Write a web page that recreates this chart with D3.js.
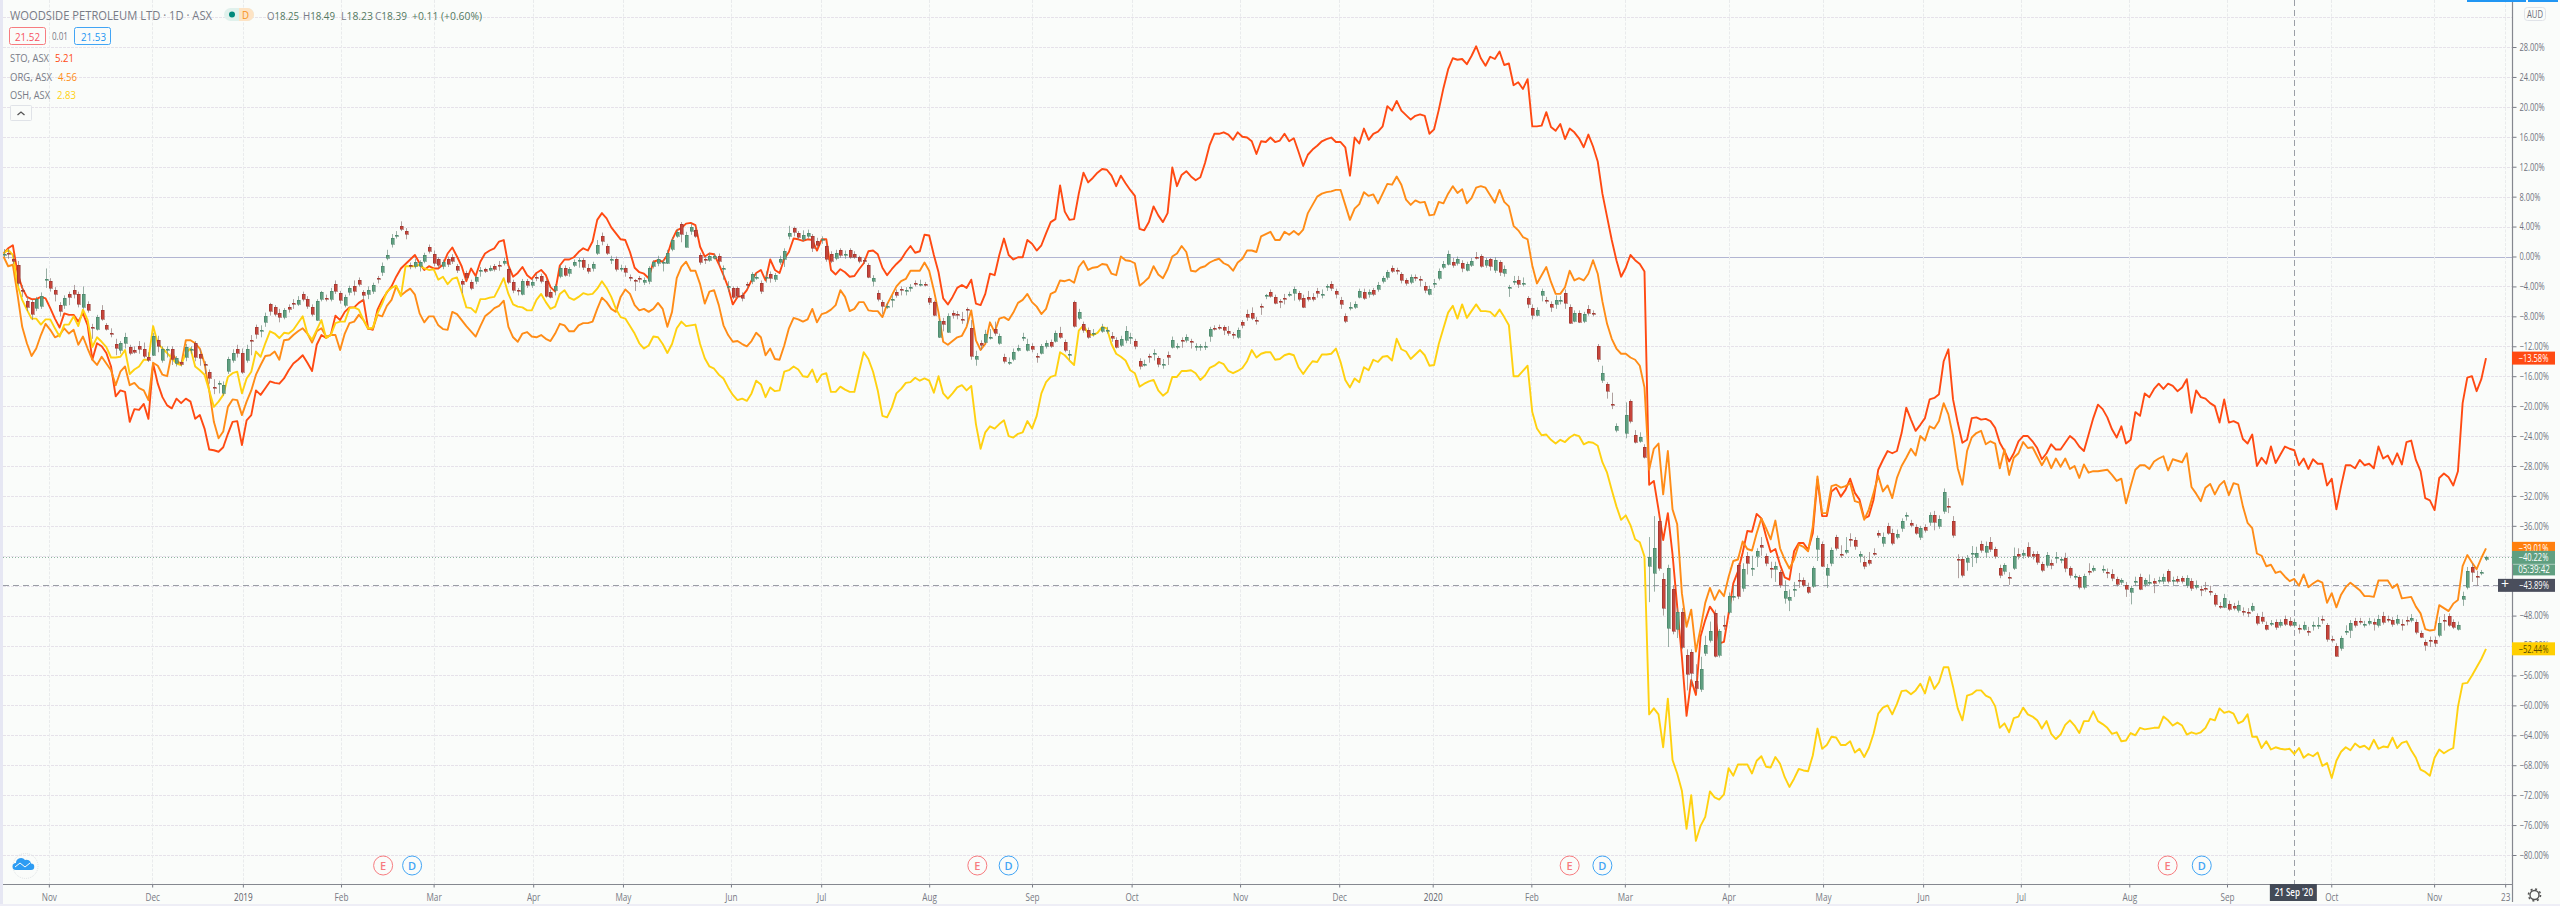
<!DOCTYPE html>
<html><head><meta charset="utf-8">
<script src="https://cdn.jsdelivr.net/npm/d3@7"></script>
<style>
html,body{margin:0;padding:0;background:#fafcfa;overflow:hidden}
text{font-family:"Open Sans",sans-serif}
</style></head><body>
<svg id="c" width="2560" height="906"></svg>
<script>
// Percent change from the chart's first bar; every array is indexed by trading day.
const stoA=[0.4,1.1,1.5,-2.2,-4.2,-5.4,-5.7,-5.7,-5.4,-5.6,-6.9,-8.3,-9.5,-7.6,-7.8,-7.8,-8.7,-7.6,-9.2,-13.8,-11.6,-12,-12.9,-14.7,-18.7,-17.9,-18.1,-22.1,-20.4,-20.5,-19.7,-21.7,-14.3,-17,-18.8,-19.9,-20.3,-19,-19.6,-19,-19.4,-21.7,-21.2,-23,-25.8,-25.9,-26.1,-25.5,-23.7,-22.1,-22,-25.2,-21.9,-21.2,-17.9,-18.5,-17.6,-16.7,-16.9,-17,-16.3,-15.2,-14.3,-13.8,-13.2,-14.2,-15.3,-11.8,-10.5,-10.9,-10.5,-7.9,-8.5,-7.4,-6.8,-6.8,-6.2,-5.8,-9.6,-9.8,-7.1,-5.8,-4.8,-4,-2.7,-1.6,-1,-.4,.2,-.9,-1.8,-1.3,-1.6,-1.6,-1.1,.4,1.2,0,-1.3,-3.3,-1.6,-2.6,-.7,.4,.8,1.1,2];
const stoB=[2.2,-1.2,-2.7,-2.2,-1.4,-2.5,-3,-2.2,-1.8,-2.5,-4.1,-4.7,-1.2,-.4,-.4,-.1,.6,1.1,.8,2,4.9,5.8,5.1,3.9,3.1,2.3,2.2,.6,-1.5,-2.1,-2.3,-2.9,-.7,-.5,-.7,.2,2.2,3.5,3.8,4.4,4.5,4.2,1.3,0,.4,.3,-1,-2.5,-4.1,-6.4,-5.4,-5.3,-4.5,-3.2,-2.2,-1.8,-3.2,-.4,-1.8,-2.2,-.3,.6,2.4,2.3,2.1,2.3,2.2,.8,2.3,2.3,-1.8,-2.4,-1.7,-2.1,-2.7,-2.6,-1.7,-.9,.7,.8,.3,-1.5,-2.5,-1.7,-1,-.4,.6,1.4,.5,.7,2.9,2.8,.2,-2.1,-5.6,-6.4,-5.4,-4.2,-3.8,-4.2,-3.1,-6.3,-6.5,-5,-2.3,-2.5,.2,2.4,.2,-.4,-.1,-.1,2.2,1.7,.8,1.5,3.1,4.6,5,9.5,6,4.9,5,8.4,11.2,9.9];
const stoC=[10.5,11.2,11.7,11.6,10.8,9.4,10.8,9.8,8.9,8.1,3.7,3.5,4.6,6.7,5.5,4.6,5.8,11.9,9.4,10.9,11.4,10.7,10.2,10.6,12.5,14.9,16.4,16.4,16.6,16.3,15.6,16.6,16,15.9,15.4,13.7,15.4,15.3,15.9,15.3,15.5,16.4,15.4,15.8,14,12.1,13.6,14.3,14.8,15.4,15.7,15.9,15.3,15.3,14.6,10.8,15.9,15.1,17.1,15.6,16.4,16.7,17.4,20.1,19.5,20.8,19.5,18.9,18.3,18.8,19,18.8,16.4,17,19.6,22.5,25,26.5,26.3,26.4,25.7,26.8,28.1,26.5,25.5,26.7,26.4,27.4,25.6,25.8,22.9,23.3,22.4,23.7,17.4,17.4,17.5,19.3,17.3,16.8,17.7,15.7,17.1,16.6,15.8,14.6,16.3,14.7,12.7,8.4,5.3,2.2,-.5,-2.7,-1.5,.2,-.5,-1,-2];
const stoD=[-30.5,-30,-33.8,-37.9,-34.3,-39.8,-46.8,-53.5,-61.4,-56.6,-58.6,-50.8,-48.6,-46.8,-47.7,-51.7,-51.5,-47.7,-43.7,-42.1,-39.6,-36.7,-36.8,-34.4,-35,-37.4,-39.5,-39.1,-41.2,-42.9,-43.2,-39.4,-38.3,-38.3,-39.2,-37,-29.8,-34.7,-34.7,-31.4,-30.9,-32.1,-31.2,-29.7,-31.6,-32.5,-35,-34.7,-32.5,-28.5,-27.2,-26,-26.3,-26,-23.6,-20.2,-21.8,-23.3,-22.5,-21.6,-19.1,-18.9,-18.4,-14,-12.4,-19.1,-22.2,-24.9,-24.5,-21.6,-21.5,-21.8,-21.7,-22,-22.9,-24.9,-26,-27.4,-26.3,-24.7,-24,-24,-24.7,-25.6,-27.1,-26.3,-25.1,-25.8,-25.8,-24.9,-24,-24.5,-25.4,-26,-23.8,-21.6,-19.8];
const stoE=[-20.4,-21.5,-23.1,-24.2,-22.7,-25,-24.5,-20.8,-21.3,-18.3,-18.8,-17.7,-17,-17.7,-17,-17.3,-18,-17.5,-16.4,-20.9,-17.9,-18.8,-19,-19.6,-20,-22.2,-19.1,-22.2,-22,-22.3,-24.4,-25,-23.8,-28,-26.9,-27.7,-25.4,-27.6,-26.5,-25.4,-25.7,-25.9,-27.9,-27,-28.4,-27.1,-27.7,-27.7,-30.6,-29.7,-33.8,-30.7,-27.9,-27.9,-28.3,-27.2,-27.9,-27.7,-28.3,-25.4,-27,-26.6,-27.8,-26.3,-27.8,-24.8,-24.6,-27.2,-28.7,-32.3,-32.6,-33.9,-29.6,-29,-29.5,-30.6,-28.7,-19.6,-16.2,-16,-18,-16.4,-13.58];

const orgA=[0,-1.3,-1.1,-5.1,-9.4,-11.6,-13.3,-12.3,-10.5,-9,-9.8,-10.8,-10.5,-9.6,-10.3,-9.8,-11.8,-10.7,-12.3,-13.8,-14.5,-13.4,-14.3,-15.2,-17.2,-15.4,-14.7,-17.2,-16.9,-17.6,-17.9,-19.2,-14.2,-14.6,-15.8,-16,-12.9,-13.8,-14.5,-11.2,-11.2,-11.6,-12.3,-14.3,-17.9,-22.1,-24.3,-23.4,-20.1,-19.1,-19.2,-21.2,-19.4,-17.9,-15.8,-14.5,-13.3,-13.2,-12.7,-13.8,-11.2,-11.1,-10.5,-10,-9.6,-10.3,-11.5,-10,-9.6,-10.7,-10.5,-10.5,-12.5,-10.3,-8.9,-8.7,-7.8,-8.5,-9.7,-9.7,-7.8,-8,-6.6,-5.8,-4,-5.2,-4.7,-4.3,-5.1,-7.6,-8.8,-8,-8,-9.2,-9.7,-9.8,-7.4,-7.7,-8.5,-9.3,-10,-10.7,-9.3,-8,-7.5,-6.9,-6.6];
const orgB=[-5.9,-9.4,-10.8,-11.4,-10.3,-10.1,-10.7,-10.8,-10.5,-11,-11.3,-10.3,-9,-9.2,-10,-10,-9.2,-8.9,-8.9,-8.7,-7,-5.5,-6.1,-7,-7.4,-5.4,-4.4,-5,-6.5,-7.2,-7,-7.4,-7,-6.2,-7,-9.4,-7.4,-2.9,-1.4,-.7,-1.9,-1.9,-3.7,-6.3,-4.7,-4.5,-6.5,-9.2,-10.5,-11.4,-11.3,-11.7,-12,-11.3,-10.2,-10.8,-13.2,-12.3,-13.7,-13.8,-11.9,-9.6,-8.2,-8.4,-8.7,-8.4,-7,-8.8,-7.7,-7.5,-7.1,-6.5,-4.5,-5.4,-7.3,-7,-6.1,-6.1,-7.2,-7.3,-7.3,-8.1,-6.4,-5.2,-4,-3.3,-3,-1.9,-1.9,-1.9,-.8,-1.9,-4.5,-7.5,-11.4,-11.8,-11.3,-10.8,-10.6,-9.4,-7.2,-11.2,-12.5,-11.7,-8.8,-10.1,-8.3,-8.1,-8.5,-7.5,-6.2,-5.8,-5,-6.1,-6.7,-7.7,-7,-5,-4.7,-3.2,-3.3,-3.1,-3.5,-1.4,-.6,-1.8,-1.5,-1.4];
const orgC=[-1,-1.1,-2.3,-2.5,0,-.5,-.6,-.9,-3.9,-3.4,-2.8,-1.3,-2.4,-2.9,-1.7,0,.4,1.4,.6,-1.9,-2,-1.5,-1.3,-.8,-.5,-.3,-.9,-1.2,-1.9,-.8,-.3,.8,.8,.6,2.7,3,3.3,2.2,2.2,3.3,2.9,3.4,2.9,3.6,5.8,6.9,8,8.4,8.6,8.7,8.9,8.9,6.9,4.9,6.4,7,8.6,8.1,8.3,7.1,8.4,9.7,9.6,10.7,9.6,7.6,6.9,7.5,7.2,7.3,5.5,5.6,7.3,7.1,8.4,9.4,8.5,9,7.1,7.8,9.2,9.4,9.2,8.2,7.2,8.9,7.3,6.7,4.1,3.5,2.6,2.3,-1.2,-3.6,-2.5,-1.4,-3.4,-5,-5,-4.1,-1.9,-3.2,-2.9,-3.2,-2.3,-.5,-2.3,-6,-9,-11,-12.3,-13,-13,-13.5,-13.8,-14.6,-17.5];
const orgD=[-28.5,-25.7,-25,-31.8,-26,-33.8,-35.8,-45,-49.5,-47.2,-52.8,-49.7,-46.3,-44.3,-45.9,-44.6,-45.4,-42.8,-40.7,-40.5,-38.1,-39.1,-39.3,-37,-35,-36.3,-37.8,-35.3,-39,-40.5,-41.7,-40.5,-38.5,-38.8,-39.4,-36.1,-29.4,-34.3,-34.3,-30.7,-30.5,-30.9,-30.7,-30.3,-32.7,-32.9,-35.2,-33.8,-31.6,-29.3,-31.4,-30.6,-32.3,-29.6,-28,-26.9,-25.7,-26.6,-24,-24.6,-22.7,-23,-22,-19.6,-21.1,-24,-28.3,-30.5,-26,-24.2,-23.6,-23.3,-25.1,-24.7,-25,-28.3,-25.8,-29.2,-26.9,-26.3,-24.8,-25.6,-25.5,-26.7,-27.9,-26.8,-28.3,-27,-28.1,-27,-28.4,-28,-29.6,-27.8,-28.9,-28.7,-28.7];
const orgE=[-28.6,-28.5,-29.2,-30,-29.7,-33,-30.7,-28.5,-27.9,-27.9,-28.4,-27.4,-27,-26.7,-28.6,-27.1,-27.3,-27.5,-26.3,-30.8,-31.7,-32.7,-30.9,-30.4,-31.8,-30.6,-30,-31.9,-30.3,-30.5,-33.4,-35.6,-36.3,-39.7,-40,-41.4,-41.2,-42.3,-42.1,-42.8,-43.4,-43.1,-44,-42.5,-44.2,-43.7,-43.3,-43.6,-46.3,-45,-46.9,-45.2,-44.2,-43.6,-44.1,-44.6,-45.4,-45.4,-45.5,-43.3,-43.3,-43.3,-44.3,-43.8,-45.7,-45.6,-45.5,-46.8,-47.7,-49.8,-50,-49.9,-46.6,-47,-47.4,-46.4,-45.9,-41.4,-39.9,-40.9,-41.8,-40.3,-39.01];

const oshA=[.4,.9,.2,-3.8,-5.8,-7.1,-8.3,-8.3,-9.1,-8.4,-8.4,-9.6,-10.7,-9.1,-9.1,-8,-9.3,-7.1,-8.5,-12.1,-10.8,-11.4,-12.1,-13.5,-13.5,-13.4,-12.5,-15.7,-15.1,-14.7,-13.8,-13.8,-9.3,-11.6,-12.3,-12.9,-13.6,-14.3,-14.5,-12.9,-12.3,-14.7,-15.2,-15.8,-17.9,-20.1,-19.4,-18.5,-16.1,-15.6,-15.4,-18.3,-16.3,-15.4,-12.7,-13.4,-11.6,-10,-10.3,-10.9,-10.2,-10.3,-9.8,-8.9,-8,-10.3,-11.1,-9.8,-8.5,-10.9,-10.5,-8.9,-8.7,-8.7,-6.9,-6.8,-7.1,-8.5,-9.6,-9.5,-7.6,-6.3,-4.7,-4.2,-3.9,-5.3,-1.3,-1.3,-1.3,-1.1,-1.6,-1.8,-1.7,-3.1,-2.7,-3.7,-3,-2.8,-4.7,-6.8,-6.9,-7.5,-5.7,-5.7,-5.5,-5.4,-4.2];
const oshB=[-2.9,-5,-6.4,-6.7,-6.8,-7.2,-7.2,-5.8,-5,-6.1,-7,-6.7,-5,-4.5,-5.5,-5.8,-5.4,-4.9,-5.1,-5,-4.3,-3.3,-4.2,-5.4,-7,-8.1,-8.3,-9.3,-10.3,-11.6,-12.3,-11.9,-10.7,-10.8,-11.7,-12.9,-11.7,-9.6,-8.7,-9.3,-9.2,-9.1,-11.7,-13.6,-14.7,-15,-15.8,-16.3,-17.5,-18.5,-19.2,-19,-19.3,-18.3,-16.6,-17.1,-18.8,-17.5,-18,-17.9,-15.4,-15.2,-14.7,-15.1,-16,-16.1,-15.1,-16.8,-15.8,-15.6,-18.1,-18.1,-17.4,-17.8,-18.1,-18.1,-15.4,-12.8,-13.7,-15.4,-17.9,-21.3,-21.5,-20.2,-18.3,-17.7,-16.9,-16.8,-16.2,-16.6,-16.3,-16.6,-18.2,-16,-18.3,-19,-18.3,-17.5,-17.2,-17.9,-17.3,-22.4,-25.7,-23.5,-22.7,-23,-22.4,-21.9,-24,-24.2,-23.7,-23.5,-22,-23,-21.3,-18.3,-16.8,-16.1,-15.9,-12.8,-13.2,-13.9,-14.5,-9.9,-9.2,-10.3,-10.5,-10.2];
const oshC=[-9.4,-9.6,-11.7,-13,-13.4,-13.9,-15.2,-15.6,-17.4,-17,-16.7,-16.5,-17.9,-18.6,-18.1,-16.1,-16.1,-15.3,-15.3,-15.2,-15.6,-16.5,-15.9,-14.9,-14.6,-14.1,-14.4,-15.3,-15.6,-15.3,-14.9,-14,-12.5,-13.5,-13,-12.8,-12.8,-13.8,-13.7,-13.2,-13,-13.2,-14.8,-15.7,-14.8,-14,-14.1,-13.1,-13.1,-13,-12.3,-14.1,-16.5,-17.5,-16.3,-16.8,-14.8,-15.2,-13.8,-14.1,-13.4,-13.3,-13.9,-11,-12.4,-12.7,-13.7,-13.1,-12.5,-13.2,-14.6,-14.5,-11.7,-9.6,-7.5,-6.6,-8.3,-6.4,-8.2,-7.3,-6.4,-7.3,-7.3,-7.4,-8,-7.1,-8.1,-9.2,-16,-16,-15.3,-14.6,-20.8,-23,-23.9,-23.8,-24.5,-25,-24.5,-24.8,-24.2,-23.8,-24,-25.1,-24.8,-24.9,-25.3,-27.5,-28.9,-31.2,-33.4,-35.2,-34.6,-35.9,-37.8,-38.2,-40.1];
const oshD=[-61.2,-60.4,-61.2,-65.6,-59.1,-67.3,-69.1,-71.4,-76.5,-72,-78.1,-76.1,-74.9,-71.5,-72.3,-72.6,-71.9,-68.4,-69.4,-67.9,-67.9,-67.9,-69.1,-67.4,-66.8,-68.2,-68.3,-66.9,-67.8,-69.6,-70.9,-69.8,-68.5,-68.7,-68.8,-66.7,-63.1,-65.8,-65.3,-64.2,-64.3,-65.3,-65.3,-64.8,-66.3,-65.8,-66.9,-65.7,-63.8,-61.1,-60.3,-60,-61.2,-59.8,-58.1,-58,-58.5,-58,-57.1,-58.4,-56.2,-57.8,-56.9,-54.9,-54.9,-57.5,-60.4,-62,-58.7,-58.5,-58,-58,-58.7,-59,-60.1,-63,-62.4,-63.6,-61.7,-61.5,-60.3,-61.2,-61.5,-62,-63.1,-62.1,-63.8,-64.5,-63.9,-62.6,-62,-62.7,-63.7,-62.1,-62.1,-60.8,-62.1];
const oshE=[-62.5,-63,-63.8,-63.6,-64.8,-64.7,-63.7,-64,-63,-63.2,-63.1,-63,-63,-61.5,-62,-62.7,-62.3,-62.7,-63.9,-63.6,-63.8,-63.6,-63,-61.8,-62,-60.4,-61,-60.8,-61.1,-62.4,-62.1,-61.2,-64.2,-64.2,-65.7,-64.8,-65.9,-65.6,-65.8,-65.9,-65.8,-66.5,-65.7,-67,-66.5,-66.8,-66.3,-68.1,-67.7,-69.7,-67.4,-66.2,-65.6,-66,-65.1,-65.6,-65.4,-65.9,-64.6,-65.8,-65.5,-65.6,-64.3,-65.7,-65,-64.8,-66,-67,-68.6,-68.9,-69.4,-67,-65.9,-66.4,-66,-65.7,-60.2,-57.1,-57,-56,-54.9,-53.8,-52.44];

// Woodside candles: [open, close, high, low] in percent
const candlesA=[[.4,.4,1,-.1],[.5,.4,1,-.3],[-.4,-.7,.3,-1],[-1.1,-3.5,-.6,-3.9],[-4.5,-4.7,-3.8,-5.4],[-5.9,-6.7,-5.3,-7.3],[-6.1,-7.7,-5.8,-8.5],[-6.9,-5.7,-5.4,-7.3],[-6.7,-5.3,-4.8,-7],[-3,-3,-1.6,-4.2],[-3.3,-4.2,-2.9,-4.7],[-4.5,-5.1,-4.1,-6],[-6.5,-7.3,-6.1,-8],[-6.6,-5.6,-5.2,-7],[-5,-5.4,-4.7,-6.5],[-4.5,-5,-3.8,-5.6],[-5,-6.3,-4.7,-6.8],[-6.8,-5,-4,-7],[-6.4,-7.2,-6,-7.5],[-9.4,-9.6,-9,-11],[-9.7,-8.1,-7.8,-9.9],[-7.1,-8.3,-6.5,-8.6],[-9.2,-9.7,-8.9,-9.9],[-10.2,-10.3,-9.6,-10.8],[-11.7,-12.2,-11,-13.2],[-12.5,-11.5,-11.3,-13],[-11.6,-10.8,-10.2,-12.3],[-12.1,-12.9,-11.8,-13.2],[-12.5,-12.8,-12,-13],[-12,-12.4,-11.3,-13],[-12.4,-13.4,-11.5,-13.6],[-13.4,-13.8,-12.8,-14.1],[-13.1,-10.6,-10.2,-13.3],[-11.1,-11.9,-10.6,-12.8],[-13.8,-12.3,-12,-14.2],[-12.4,-12.4,-12,-13.5],[-12.4,-13.8,-12,-14.5],[-14.3,-13.6,-13.3,-14.7],[-14.1,-14.4,-13.9,-14.7],[-13.5,-12.1,-11.7,-14],[-12.3,-12.3,-12,-13],[-11.6,-13.5,-11.3,-14],[-13,-13.6,-12.4,-14.6],[-14.4,-14.6,-14,-15.7],[-15.4,-16.2,-15.1,-17],[-17.4,-17.6,-16.4,-18.4],[-17.1,-16.9,-16.6,-18.3],[-18.3,-17.2,-16.7,-18.6],[-15.3,-13.7,-13.4,-15.7],[-13.9,-12.9,-12.4,-14.2],[-12.3,-12.9,-11.8,-13.5],[-12.9,-15.4,-12.3,-15.7],[-13.9,-12.4,-11.8,-14.2],[-11.1,-11.3,-10.5,-13.2],[-9.4,-10.3,-9.1,-11],[-9.8,-9.8,-9.2,-10.8],[-8.7,-7.9,-7.5,-9.4],[-6.4,-7.4,-6.2,-7.9],[-6.8,-7.7,-6.5,-8],[-7.5,-8,-7,-8.8],[-8,-7.1,-6.9,-8.4],[-6.7,-7,-6.4,-7.5],[-6.2,-6.3,-5.7,-7],[-6.3,-5.8,-5.3,-6.6],[-5,-5.7,-4.7,-6],[-5.7,-6.6,-5.3,-7],[-6.8,-7.8,-6.4,-8],[-8.5,-6,-5.7,-8.6],[-5.7,-4.8,-4.6,-6],[-5.5,-5.7,-5.1,-6],[-5.7,-4.6,-4.2,-6],[-3.7,-4.7,-3.2,-5],[-4.9,-5.9,-4.6,-6.3],[-6.5,-5.4,-5.1,-6.8],[-4.8,-4.2,-3.9,-5.2],[-4,-4.7,-3.2,-5.2],[-3.1,-3.6,-2.8,-4],[-4.8,-5.2,-4.5,-6],[-5,-4.5,-4,-5.7],[-4.6,-3.8,-3.5,-5],[-2.9,-3.1,-2.6,-3.6],[-2.1,-1.3,-.8,-2.6],[-.2,.2,.9,-.5],[1.7,2.5,3,1.2],[2.9,2.9,3.4,2.4],[4.1,3.7,4.7,3.4],[3.4,3,3.8,2.3],[-1.1,-1.3,-.8,-1.7],[-1.3,-.7,-.3,-1.6],[-1.4,-.8,-.5,-2],[-.6,.2,.5,-.9],[1.3,.7,1.6,.4],[.3,-.9,.8,-1.3],[-.4,-1.2,-.1,-1.5],[-1.4,-.8,-.4,-1.7],[-.4,-1.1,0,-1.4],[0,-.5,.3,-1],[-1.3,-1.9,-1,-2.2],[-3.3,-3.7,-3,-4.9],[-2.2,-2.8,-1.9,-3.1],[-3.4,-4.2,-3.1,-4.5],[-3.4,-2.8,-2.5,-3.7],[-1.8,-1.8,-1.4,-2.7],[-1.7,-2,-1.5,-2.2],[-1.8,-1.5,-1.2,-2],[-1.3,-1.7,-1,-2]];
const candlesB=[[-1.2,-1.3,-.6,-1.9],[-.9,-.6,-.2,-1.2],[-1.7,-3.4,-1.3,-3.7],[-3.4,-4.5,-3.1,-4.9],[-4.5,-4.7,-4.2,-5.2],[-5,-3.3,-3,-5.2],[-3.3,-3.9,-3,-4.2],[-3.8,-3.4,-3,-4.2],[-2.7,-2.9,-2.3,-3.3],[-2.6,-3.3,-2.3,-3.6],[-3.3,-5.3,-3,-5.5],[-4.7,-5.4,-4.4,-5.6],[-4.5,-4,-3.7,-5.2],[-2.6,-1.5,-1.2,-2.9],[-1.5,-2.4,-1.2,-2.7],[-2.3,-1.7,-1.4,-2.7],[-1.1,-.7,-.4,-1.4],[-.5,-.5,-.2,-1.5],[-.5,-1.4,-.2,-1.8],[-1.5,-1.9,-1,-2.3],[-1.5,-1,-.7,-2],[.5,1.6,2.2,.2],[2.8,2.1,3.2,1.5],[1.4,.5,1.7,.2],[-.5,-.3,.1,-1],[-.3,-1.7,0,-2],[-1.7,-1.5,-1.1,-2],[-1.5,-2.1,-1.2,-2.7],[-2.7,-2.9,-2.4,-3.3],[-3.2,-3.4,-3,-4.6],[-2.9,-3.1,-2.6,-3.5],[-3.5,-3.2,-2.8,-3.8],[-3.4,-1.6,-1.3,-3.7],[-1.3,-.8,-.5,-1.6],[-.8,-.3,.1,-1.3],[-.8,-.8,-.4,-2],[-.8,.5,.9,-1],[1,2.2,2.6,.7],[2.8,3.3,3.7,2.5],[4.3,2.9,4.6,1.9],[1.3,2.9,3.3,1.2],[3.3,3.9,4.4,2.9],[3.6,2.8,3.9,2.5],[.2,-.8,.5,-1.1],[-.4,-.6,0,-1],[-.4,.1,.5,-.7],[-.2,.1,.4,-.4],[.1,-.6,.4,-1.2],[-1.7,-1.6,-1.2,-3.1],[-4.1,-4,-3.3,-4.7],[-4.2,-5.4,-4,-5.7],[-4.2,-5.3,-4,-5.6],[-5.1,-5.5,-4.8,-6],[-3.7,-3.8,-3.4,-4.3],[-3.4,-2.4,-2.1,-3.7],[-2.7,-2.7,-2.2,-3.1],[-3.5,-4.6,-3.2,-5],[-2.8,-2.8,-2,-3.5],[-2.3,-2.9,-2,-3.5],[-3,-2.5,-2.2,-3.4],[-.7,-.3,.1,-1.1],[-.3,.8,1.1,-1.4],[2.7,3.1,4.1,2.3],[3.8,3.2,4,2.7],[3.1,2.6,3.4,2.3],[2.4,2.9,3.5,2],[2.8,3.2,3.6,2.4],[2.7,1.1,3,.6],[2.1,1.5,2.5,1.1],[2.3,2.3,2.7,1.7],[1.4,-.4,1.7,-.7],[.4,-.6,.7,-.9],[-.2,.5,.9,-.5],[.9,.2,1.1,-.2],[.3,.3,.8,-.3],[.9,0,1.1,-.3],[.4,0,.7,-.3],[-.1,-.6,.1,-.9],[-.5,-.6,-.2,-1],[-1.1,-2.7,-.9,-2.9],[-3.3,-2.9,-2.5,-4],[-4.9,-5.7,-4.5,-6],[-6.1,-6.7,-5.8,-7.7],[-6.6,-6.6,-6.2,-7],[-5.7,-5.7,-5.2,-6.8],[-4.8,-5.2,-4.4,-5.5],[-4.3,-4.5,-4,-5.2],[-4.5,-4.5,-4.1,-5.2],[-4.1,-4.1,-3.7,-4.7],[-3.5,-3.7,-3.2,-4],[-3.7,-3.7,-3.1,-4],[-3.7,-3.8,-3.4,-4],[-5.6,-6.2,-5.3,-6.5],[-6.1,-7.8,-5.9,-8],[-10.7,-8.6,-8.3,-10.9],[-8.6,-9,-8.2,-10],[-10,-7.9,-7.6,-10.2],[-7.6,-7.9,-7.2,-8.3],[-7.7,-7.8,-7.3,-8.4],[-8.3,-8.4,-7.4,-9],[-7,-7.2,-6.8,-9],[-9.6,-13.4,-8.5,-13.8],[-13.7,-13.3,-12.6,-14.6],[-11.6,-11.9,-11.2,-12.5],[-11.4,-10.3,-9.8,-11.6],[-10.7,-10.7,-9.7,-11.1],[-9.7,-10.2,-8.7,-10.6],[-11.6,-10.6,-10.3,-11.8],[-13.4,-13.9,-13,-14.3],[-14.1,-14.1,-13.5,-14.5],[-13.7,-12.7,-12.3,-14],[-12.5,-12.2,-11.8,-12.7],[-10.7,-10.7,-10.2,-11.3],[-12.5,-11.7,-11,-12.7],[-12,-12.4,-11.6,-12.8],[-13.3,-13.4,-12.9,-14.2],[-12.9,-12,-11.7,-13.1],[-12,-11.6,-11.2,-12.3],[-11.4,-12,-11.1,-12.2],[-11.3,-10.2,-9.9,-11.5],[-10.2,-10.8,-9.4,-11],[-11.4,-12.5,-11.1,-12.8],[-13,-13,-12.5,-13.8],[-6.1,-9.3,-5.9,-9.5],[-8.2,-7.4,-7,-8.5],[-9,-9.8,-8.7,-10.2],[-9.8,-10.7,-9.5,-11],[-10.2,-10.2,-9.7,-10.7]];
const candlesC=[[-9.9,-9.4,-9,-10.2],[-9.8,-9.8,-9.4,-10.3],[-10.6,-10.9,-10.1,-11.4],[-11.1,-12,-10.8,-12.3],[-11.8,-11,-10.6,-12.1],[-11.2,-10,-9.3,-11.6],[-10.7,-10.7,-10.2,-11.7],[-11.3,-12,-11,-12.4],[-14,-14.7,-13.6,-15.1],[-14.4,-14.4,-13.8,-14.7],[-13.3,-13.5,-13,-14.2],[-12.9,-12.9,-12.4,-13.9],[-13.6,-14.4,-13.3,-14.8],[-14.4,-14.4,-13.7,-15],[-13.1,-13.4,-12.7,-14.5],[-12.1,-11.1,-10.7,-12.3],[-12,-12,-11.6,-12.4],[-11.2,-11.4,-10.8,-12.2],[-11.2,-10.8,-10.4,-11.5],[-11.3,-11.5,-11,-12.3],[-12,-12,-11.6,-12.6],[-12.2,-12,-11.7,-12.6],[-12,-12,-11.4,-12.5],[-10.6,-9.7,-9.4,-11.4],[-9.5,-9.6,-9.2,-9.9],[-9.4,-9.5,-9.1,-9.8],[-9.4,-9.8,-9.2,-10.5],[-9.9,-10.2,-9.3,-10.6],[-10.4,-10.6,-10.1,-11],[-10.7,-9.8,-9.5,-11],[-8.8,-9.2,-8.5,-9.6],[-7.7,-8.1,-7.1,-8.6],[-7.5,-8.2,-6.8,-8.5],[-8.5,-8.6,-8.1,-9.1],[-6.6,-6.7,-6.3,-7.8],[-5.3,-5.2,-5,-5.7],[-4.7,-5.2,-4.4,-5.5],[-5.4,-6.2,-5.1,-6.4],[-6,-6.1,-5.7,-6.9],[-5.6,-5.7,-5,-6.4],[-5,-5,-4.7,-5.4],[-5,-4.4,-4,-5.9],[-4.9,-5.7,-4.6,-6],[-5.5,-6.7,-5.1,-6.9],[-5.4,-5.7,-4.6,-6],[-5.4,-5.7,-4.9,-6],[-4.6,-4.9,-4.2,-5.5],[-5,-5,-4.4,-5.6],[-4.1,-4,-3.7,-4.6],[-3.7,-4.2,-3.3,-4.6],[-4.6,-5,-4.3,-5.6],[-5.8,-6.4,-5.4,-7],[-7.9,-8.6,-7.6,-8.9],[-7,-6.8,-6.1,-7.2],[-6.7,-6.3,-6,-7],[-5.4,-4.6,-4.3,-5.6],[-4.7,-5.5,-4.3,-5.8],[-5,-4.7,-4.4,-5.5],[-4.5,-5,-4.2,-5.3],[-4.3,-3.8,-3.4,-4.7],[-3.3,-2.9,-2.6,-3.6],[-2.8,-2.1,-1.8,-3.1],[-1.5,-1.9,-1.2,-2.2],[-1.8,-2,-1.5,-2.4],[-2.4,-3.2,-2.1,-3.6],[-3.2,-3.6,-2.9,-3.9],[-3.4,-2.7,-2.4,-3.7],[-2.7,-2.9,-2.4,-3.3],[-3,-3.1,-2.6,-4],[-3.9,-4.5,-3.4,-4.9],[-5,-4.3,-3.9,-5.2],[-3.7,-3.5,-3,-4.2],[-2.8,-1.9,-1.6,-3.2],[-1.4,-1,-.6,-1.7],[-1,.4,.8,-1.2],[-.8,-1.2,-.2,-1.5],[-.9,-.4,0,-1.2],[-.9,-1.6,-.5,-2.1],[-1.8,-1,-.7,-2],[-1.1,-.6,-.2,-1.4],[0,-.1,.6,-.4],[.1,-1.2,.3,-1.5],[-1.2,-.5,-.2,-1.5],[-.4,-1.4,-.2,-1.9],[-1.9,-.5,-.1,-2.2],[-.8,-2.1,-.5,-2.6],[-2.3,-1.7,-1.2,-2.7],[-4.1,-4.1,-3.8,-5.4],[-3.4,-3.3,-2.6,-3.8],[-3.2,-3.8,-2.6,-4.2],[-3.7,-3.6,-2.8,-4],[-5.6,-6.4,-5.3,-6.9],[-6.9,-7.9,-6.4,-8.4],[-7.8,-7.1,-6.8,-8],[-5.1,-4.6,-4.3,-6],[-5.8,-5.9,-5.4,-6.3],[-6.4,-6.8,-6,-7.4],[-6.4,-5.8,-5.2,-7],[-5.8,-5.8,-5.3,-6.4],[-4.9,-6.3,-4.4,-7],[-6.7,-8.8,-6.4,-9],[-8.6,-7.5,-7.2,-8.8],[-7.5,-8.7,-7.2,-8.9],[-8.7,-7.7,-7.4,-8.9],[-7,-7.6,-6.5,-7.9],[-7.5,-7.7,-7.2,-8],[-12,-13.8,-11.7,-14.1],[-16.5,-15.6,-14.6,-16.9],[-17.1,-18.1,-16.8,-19],[-19.7,-19.8,-18.2,-20.4],[-23.2,-22.6,-22.3,-23.5]];
const candlesD=[[-23.6,-21.2,-19.5,-24.3],[-19.3,-22,-19.1,-22.3],[-23.8,-24.7,-23.2,-25],[-24.6,-24.1,-23.5,-24.9],[-25.4,-26.7,-25.1,-27],[-41.4,-40.2,-37.5,-46.2],[-42.2,-38.9,-34.7,-44.8],[-35.4,-41.7,-35,-42],[-43.1,-47,-42.3,-48],[-49.7,-41.7,-41.2,-52.2],[-44.5,-50.1,-44,-50.5],[-49.8,-47.5,-47,-51],[-47.5,-52.2,-47,-52.5],[-53.2,-55.8,-52.5,-58],[-52.8,-55.6,-52.5,-57.5],[-56.7,-57.6,-54.5,-58.2],[-57.9,-55.2,-53.5,-58.2],[-53,-51.9,-50.7,-53.4],[-51.3,-50.1,-48.8,-51.6],[-47.6,-53.3,-47.2,-53.6],[-53.3,-50.1,-49.8,-53.6],[-49.3,-49.4,-48,-49.9],[-47.5,-45.4,-44.9,-47.8],[-45.5,-45.4,-44,-46],[-41.3,-45.4,-41,-45.8],[-44.4,-41.8,-41,-44.8],[-40.1,-41.1,-39.5,-42.5],[-41.7,-41.6,-40,-42.7],[-40,-39.3,-39,-41.5],[-38.6,-38.9,-37.5,-40],[-40.1,-41,-39.7,-41.4],[-41.7,-41.8,-40.8,-43],[-41.8,-41.4,-40.8,-43.5],[-42.2,-44,-41.9,-44.3],[-45.7,-44.7,-43.3,-46.4],[-45.9,-45.5,-44.5,-47.4],[-44.4,-44.4,-43.5,-45.5],[-43.3,-43.5,-42.3,-44.3],[-43.2,-43.9,-42.9,-44.2],[-44.2,-44.9,-43.6,-45.1],[-44.1,-41.7,-41.4,-44.3],[-39.1,-37.6,-37.3,-40.7],[-38.4,-41.3,-38.1,-41.5],[-42.6,-41.7,-41.1,-44.3],[-40.9,-39.2,-38.9,-41.4],[-37.5,-39,-37.2,-39.3],[-39.7,-39.9,-38.6,-40.3],[-39.5,-39.2,-37.5,-39.8],[-37.8,-37.9,-37,-38.8],[-37.9,-38.7,-37.5,-39.2],[-40,-39.7,-39.4,-40.9],[-40.8,-41.4,-40,-41.8],[-40.6,-41,-39.5,-41.3],[-39.6,-39.7,-39,-40],[-37,-37.3,-36.6,-37.6],[-38.3,-37.5,-36.9,-38.8],[-36,-37,-35.6,-37.2],[-37,-38.4,-36.4,-38.6],[-37.5,-37.1,-36.5,-37.8],[-36.4,-35.4,-35,-36.8],[-34.6,-34.6,-34.2,-35.3],[-35.6,-35.9,-35.2,-36.2],[-36.2,-37,-35.8,-37.2],[-37.5,-36.3,-36,-37.9],[-36.1,-36.5,-35.8,-36.9],[-35.6,-34.6,-34.2,-36],[-34.6,-35.6,-34,-36.6],[-36.1,-35.1,-34.6,-36.4],[-34.1,-31.5,-31,-34.4],[-33.4,-33.5,-32.3,-34.3],[-35.4,-37.3,-34.7,-37.6],[-40.5,-40.6,-39.8,-43],[-40.4,-42.6,-40.1,-42.9],[-40.8,-40.3,-39.9,-42],[-39.6,-39.6,-38.7,-41.5],[-40.1,-39.6,-38.8,-41],[-38.4,-39.2,-38,-39.6],[-39.5,-38.7,-38.1,-40.2],[-38.2,-39.1,-37.5,-39.5],[-39.1,-40.1,-38.8,-40.4],[-41.7,-42.6,-41.2,-43],[-42.1,-41.3,-41,-42.5],[-42.8,-42.9,-42.2,-43.9],[-41.6,-40,-38.9,-41.9],[-39.7,-40,-39,-40.5],[-39.9,-39.6,-39.2,-40.4],[-38.8,-40,-38.2,-40.3],[-39.8,-40.1,-39.4,-40.5],[-39.8,-40.9,-39.4,-41.2],[-41.1,-41.9,-40.8,-42.2],[-41.2,-39.9,-39.5,-41.6],[-41,-41.3,-40.5,-41.8],[-40.2,-40.2,-39.5,-41],[-40.7,-40.5,-40.2,-41],[-40.3,-41.7,-39.6,-42.2],[-41.7,-42.6,-41.4,-43],[-42.9,-42.7,-42.4,-43.2],[-42.9,-44.2,-42.6,-44.5],[-44.2,-42.7,-42.4,-44.5],[-42,-42.1,-41,-42.6],[-41.9,-41.6,-41.3,-42.2]];
const candlesE=[[-41.8,-41.8,-41.3,-42.3],[-42.2,-42.3,-41.7,-43],[-42.5,-43,-41.8,-43.4],[-43.1,-43.8,-42.8,-44.1],[-43.6,-43.3,-43,-43.9],[-43.9,-44.4,-43.5,-45.5],[-44.8,-44.3,-44,-46.5],[-43.5,-43.4,-42.8,-44],[-42.8,-44.4,-42.4,-44.6],[-43.9,-43.3,-43,-44.2],[-43.5,-43.5,-42.5,-44],[-43.4,-43.7,-43,-45],[-43.3,-43.3,-42.8,-43.7],[-43.3,-42.8,-42.4,-43.8],[-42,-43.4,-41.8,-43.7],[-43.4,-43.3,-42.8,-43.9],[-43.1,-43.4,-42.7,-43.7],[-43,-43.4,-42.7,-43.7],[-44,-43,-42.6,-44.3],[-43.4,-44.4,-43,-44.7],[-44.2,-43.9,-43.3,-44.5],[-44.5,-44.7,-44,-45.4],[-44.3,-44.5,-43.5,-44.8],[-44.7,-44.8,-44,-45.3],[-45.3,-46.5,-45,-46.8],[-46.7,-46.8,-46.2,-47.1],[-46.8,-45.6,-45.1,-47],[-46.4,-47.1,-46,-47.4],[-46.7,-47,-46.3,-47.3],[-47.3,-46.6,-46,-47.6],[-47.4,-47.5,-46.9,-48],[-47.5,-47.6,-47,-48.2],[-47.3,-46.7,-46.3,-47.5],[-48,-49,-47.7,-49.3],[-48.2,-48.8,-47.5,-49.1],[-49.2,-49.7,-48.8,-50],[-49.1,-49,-48.6,-49.4],[-48.9,-49.6,-48.5,-49.9],[-49.3,-48.9,-48.5,-49.6],[-48.4,-49.1,-48,-49.4],[-48.7,-49.2,-48.2,-49.5],[-49.3,-48.9,-48.4,-49.6],[-49.6,-49.8,-49.2,-50.4],[-49.7,-49.2,-48.8,-50],[-50,-50.1,-49.5,-50.7],[-49.3,-49.2,-48.8,-50],[-49.4,-49.2,-48.2,-49.8],[-48.5,-48.6,-48,-49.1],[-49.3,-51.2,-49,-51.5],[-51.1,-51.3,-50.7,-51.6],[-52,-53.3,-51.7,-53.5],[-52.4,-51,-50.7,-52.7],[-50,-50,-49.3,-50.6],[-49.9,-49,-48.6,-51],[-48.7,-49.3,-48.3,-49.6],[-48.7,-48.9,-48.3,-49.2],[-49.2,-49.1,-48.7,-49.6],[-49,-48.7,-48.3,-49.3],[-48.9,-49.2,-48.4,-50],[-49.3,-48.5,-47.9,-49.6],[-48,-48.8,-47.5,-49.2],[-48.4,-48.5,-48,-48.9],[-48.6,-49.2,-48.2,-49.5],[-49,-48.4,-47.9,-49.3],[-49.1,-49.2,-48.5,-50],[-48.6,-48.7,-48.1,-49.3],[-48.6,-48.3,-47.8,-48.9],[-48.8,-50.1,-48.5,-50.5],[-50.3,-50.8,-50,-51],[-51.5,-51.9,-51.2,-52.7],[-51.3,-51.4,-50.8,-52.2],[-51.3,-51.7,-50.8,-52.2],[-50.6,-49,-48.2,-50.9],[-48.6,-48.7,-47.8,-50],[-48,-49.2,-47.7,-49.5],[-48.8,-49.5,-48.5,-49.8],[-49.7,-49.2,-48.8,-50],[-45.8,-45.4,-44.8,-46.7],[-44.2,-42,-41.5,-44.5],[-41.5,-42.2,-41,-43.5],[-42.7,-42.8,-42,-44],[-42.3,-42.2,-41.9,-42.6],[-40.5,-40.2,-40,-40.7]];

const timeTickDays=[9.7,31.8,51.2,72.2,92,113.3,132.5,155.6,174.9,198,220,241.3,264.5,285.7,305.7,326.8,346.8,369,389.2,410.6,431.5,454.7,475.6,497.9,519.9,535.1];
const timeTickLabels=["Nov","Dec","2019","Feb","Mar","Apr","May","Jun","Jul","Aug","Sep","Oct","Nov","Dec","2020","Feb","Mar","Apr","May","Jun","Jul","Aug","Sep","Oct","Nov","23"];
const boldTickLabels=["2019","2020"];
const pctTicks=[32,28,24,20,16,12,8,4,0,-4,-8,-12,-16,-20,-24,-28,-32,-36,-40,-44,-48,-52,-56,-60,-64,-68,-72,-76,-80];
const earningsDays=[81.2,208.3,335,462.9];
const dividendDays=[87.4,215,342,470.2];
const crossDay=489.9, crossPct=-43.89;
const lastPcts={sto:-13.58,org:-39.01,wpl:-40.22,osh:-52.44};

const W=2560,H=906,axisX=2512,axisY=884;
const x=d3.scaleLinear().domain([0,531]).range([3.5,2486]);
const y=d3.scaleLinear().domain([0,-80]).range([256.5,855]);
const svg=d3.select("#c");
const fmt=v=>(v<0?"\u2212":"")+Math.abs(v).toFixed(2)+"%";
const at=(start,arr)=>arr.map((v,i)=>[start+i,v]);
// The reference's text is horizontally narrow: fit each string to a measured width.
function squeeze(sel,f){sel.each(function(){const n=this.getComputedTextLength();d3.select(this).attr("textLength",n*f).attr("lengthAdjust","spacingAndGlyphs");});}

svg.append("rect").attr("width",W).attr("height",H).attr("fill","#fafcfa");
svg.append("rect").attr("width",3).attr("height",H).attr("fill","#e6e7f3");

// grid
const g=svg.append("g");
g.selectAll(".h").data(pctTicks).join("line").attr("x1",3).attr("x2",axisX).attr("y1",d=>Math.round(y(d))+.5).attr("y2",d=>Math.round(y(d))+.5)
 .attr("stroke",d=>d===0?"#b2b5d2":"#e6e2ea").attr("stroke-width",d=>d===0?1.2:1).attr("stroke-dasharray",d=>d===0?null:"3 1");
g.selectAll(".v").data(timeTickDays).join("line").attr("y1",0).attr("y2",axisY).attr("x1",d=>Math.round(x(d))+.5).attr("x2",d=>Math.round(x(d))+.5)
 .attr("stroke","#e9ebec").attr("stroke-dasharray","3 1.5");

// price lines
svg.append("line").attr("x1",3).attr("x2",axisX).attr("y1",Math.round(y(lastPcts.wpl))+.5).attr("y2",Math.round(y(lastPcts.wpl))+.5).attr("stroke","#8fb5a0").attr("stroke-dasharray","1 2");
svg.append("line").attr("x1",3).attr("x2",2498).attr("y1",Math.round(y(crossPct))+.5).attr("y2",Math.round(y(crossPct))+.5).attr("stroke","#9a9ea6").attr("stroke-dasharray","6 4");
svg.append("line").attr("y1",0).attr("y2",axisY).attr("x1",Math.round(x(crossDay))+.5).attr("x2",Math.round(x(crossDay))+.5).attr("stroke","#9a9ea6").attr("stroke-dasharray","6 4");

// comparison lines
const line=d3.line().x(d=>x(d[0])).y(d=>y(d[1])).curve(d3.curveLinear);
const series=[
 {c:"#ff4a12",d:[...at(0,stoA),...at(107,stoB),...at(233,stoC),...at(352,stoD),...at(449,stoE)]},
 {c:"#ff8c17",d:[...at(0,orgA),...at(107,orgB),...at(235,orgC),...at(352,orgD),...at(449,orgE)]},
 {c:"#ffd110",d:[...at(0,oshA),...at(107,oshB),...at(235,oshC),...at(352,oshD),...at(449,oshE)]}
];
svg.append("g").selectAll("path").data(series).join("path").attr("d",s=>line(s.d)).attr("fill","none").attr("stroke",s=>s.c).attr("stroke-width",1.9).attr("stroke-linejoin","round");

// candles
const candles=[...at(0,candlesA),...at(106,candlesB),...at(235,candlesC),...at(347,candlesD),...at(449,candlesE)];
const cg=svg.append("g").selectAll("g").data(candles).join("g");
const cx=d=>Math.round(x(d[0]));
cg.append("line").attr("x1",d=>cx(d)+.5).attr("x2",d=>cx(d)+.5).attr("y1",d=>y(d[1][2])).attr("y2",d=>y(d[1][3])).attr("stroke",d=>d[1][1]>=d[1][0]?"#6f8f80":"#8f7a78").attr("stroke-opacity",.7);
cg.append("rect").attr("x",d=>cx(d)-1).attr("width",3)
 .attr("y",d=>Math.round(y(Math.max(d[1][0],d[1][1]))))
 .attr("height",d=>Math.max(1,Math.round(Math.abs(y(d[1][0])-y(d[1][1])))))
 .attr("fill",d=>d[1][1]>=d[1][0]?"#5f9f80":"#c5443a")
 .attr("stroke",d=>d[1][1]>=d[1][0]?"#3f7a5e":"#8e2f2a").attr("stroke-width",.5).attr("shape-rendering","crispEdges");

// right axis
const axR=svg.append("g").attr("transform",`translate(${axisX+.5},0)`).call(d3.axisRight(y).tickValues(pctTicks.slice(1)).tickFormat(fmt).tickSize(4).tickPadding(3));
axR.select(".domain").remove();
axR.selectAll("line").attr("stroke","#787b86");
axR.selectAll("text").attr("fill","#70737e").style("font-size","10.5px").style("font-family","'Open Sans',sans-serif").call(squeeze,.71);
svg.append("line").attr("x1",axisX+.5).attr("x2",axisX+.5).attr("y1",0).attr("y2",H-4).attr("stroke","#85888f").attr("stroke-width",1.2);

// bottom axis
const axB=svg.append("g").attr("transform",`translate(0,${axisY+.5})`).call(d3.axisBottom(x).tickValues(timeTickDays).tickFormat((d,i)=>timeTickLabels[i]).tickSize(3).tickPadding(6));
axB.select(".domain").remove();
axB.selectAll("line").attr("stroke","#787b86");
axB.selectAll("text").attr("fill",(d,i)=>boldTickLabels.includes(timeTickLabels[i])?"#5d6069":"#777a84").style("font-size","10.5px").style("font-family","'Open Sans',sans-serif").call(squeeze,.78);
svg.append("line").attr("x1",3).attr("x2",axisX).attr("y1",axisY+.5).attr("y2",axisY+.5).attr("stroke","#85888f").attr("stroke-width",1.2);
svg.append("rect").attr("x",0).attr("y",H-2).attr("width",W).attr("height",2).attr("fill","#eeeef6");

// right tags
function tag(pct,fill,tx,w=43,h=13){
  const yy=y(pct);
  svg.append("rect").attr("x",axisX).attr("y",yy-h/2).attr("width",w).attr("height",h).attr("fill",fill);
  svg.append("text").attr("x",axisX+w/2).attr("y",yy+4).attr("text-anchor","middle").attr("fill",tx).attr("font-size",10.5).text(fmt(pct)).call(squeeze,.72);
}
tag(lastPcts.sto,"#ff4a12","#fff");
tag(lastPcts.org,"#ff7f0e","#fff");
tag(lastPcts.wpl,"#5f9f80","#fff",43,13);
svg.append("rect").attr("x",axisX+1).attr("y",y(lastPcts.wpl)+7).attr("width",42).attr("height",11).attr("fill","#5f9f80");
svg.append("text").attr("x",axisX+22).attr("y",y(lastPcts.wpl)+16).attr("text-anchor","middle").attr("fill","#fff").attr("font-size",10).text("05:39:42").call(squeeze,.8);
svg.append("rect").attr("x",2498).attr("y",y(crossPct)-6).attr("width",57).attr("height",13).attr("fill","#4a4e5c");
svg.append("text").attr("x",2505).attr("y",y(crossPct)+4.5).attr("text-anchor","middle").attr("fill","#fff").attr("font-size",14).text("+");
svg.append("text").attr("x",2534).attr("y",y(crossPct)+4).attr("text-anchor","middle").attr("fill","#fff").attr("font-size",10.5).text(fmt(crossPct)).call(squeeze,.72);
tag(lastPcts.osh,"#ffcf00","#5a4a00");

// crosshair time label
svg.append("rect").attr("x",x(crossDay)-24).attr("y",axisY).attr("width",47).attr("height",17).attr("fill","#434a57");
svg.append("text").attr("x",x(crossDay)).attr("y",axisY+12).attr("text-anchor","middle").attr("fill","#fff").attr("font-size",10.5).attr("font-weight",600).text("21 Sep '20").call(squeeze,.76);

// event marks
function ev(days,ch,col){
  const e=svg.append("g").selectAll("g").data(days).join("g").attr("transform",d=>`translate(${x(d)},865.5)`);
  e.append("circle").attr("r",9.5).attr("fill","#fafcfa").attr("stroke",col).attr("stroke-width",1);
  e.append("text").attr("y",4).attr("text-anchor","middle").attr("fill",col).attr("font-size",11).attr("font-weight",600).text(ch);
}
ev(earningsDays,"E","#f77c80");
ev(dividendDays,"D","#42a5f5");

// cloud mark
svg.append("circle").attr("cx",25.5).attr("cy",866).attr("r",12.5).attr("fill","none").attr("stroke","#dfe3e6").attr("stroke-dasharray","1 1");
svg.append("path").attr("d","M16 870 a3.5 3.5 0 0 1 0-7 a5 5 0 0 1 9-3 a4.5 4.5 0 0 1 6 3.5 a3.2 3.2 0 0 1 0 6.5 z").attr("fill","#2d9cf3");
svg.append("path").attr("d","M15 867 L20 863 L25 867 L30 863").attr("fill","none").attr("stroke","#fafcfa").attr("stroke-width",1);

// gear
const gear=svg.append("g").attr("transform","translate(2534.5,895)");
gear.append("circle").attr("r",4.5).attr("fill","none").attr("stroke","#555").attr("stroke-width",1.4);
gear.append("circle").attr("r",6).attr("fill","none").attr("stroke","#555").attr("stroke-width",1.6).attr("stroke-dasharray","2 2.7");

// top bar, AUD (the badge covers the top tick label, as in the reference)
svg.append("rect").attr("x",2467).attr("y",0).attr("width",59).attr("height",2).attr("fill","#2196f3");
svg.append("rect").attr("x",2528).attr("y",0).attr("width",30).attr("height",2).attr("fill","#2196f3");
svg.append("rect").attr("x",2524.5).attr("y",7.5).attr("width",21).attr("height",13).attr("rx",3).attr("fill","#fafcfa").attr("stroke","#e0e3e8");
svg.append("text").attr("x",2527).attr("y",18).attr("fill","#6a6d78").attr("font-size",10.5).attr("textLength",16).attr("lengthAdjust","spacingAndGlyphs").text("AUD");

const grey="#787b86", hg="#53785f";
const t=(xx,yy,s,c,fs,len)=>svg.append("text").attr("x",xx).attr("y",yy).attr("fill",c).attr("font-size",fs).attr("textLength",len).attr("lengthAdjust","spacingAndGlyphs").text(s);
t(10,19.5,"WOODSIDE PETROLEUM LTD \u00b7 1D \u00b7 ASX",grey,12,202);
svg.append("rect").attr("x",224).attr("y",8).attr("width",30).attr("height",13).attr("rx",6.5).attr("fill","#e0f1ec");
svg.append("path").attr("d","M239 8h8.5a6.5 6.5 0 0 1 0 13H239z").attr("fill","#fde3c4");
svg.append("circle").attr("cx",232).attr("cy",14.5).attr("r",3).attr("fill","#00897b");
t(242,19,"D","#f7931a",11,7);
const ohlc=[["O","18.25",267],["H","18.49",303],["L","18.23",341],["C","18.39",375]];
ohlc.forEach(o=>{const n=t(o[2],19.5,"",hg,11.5,32);n.append("tspan").attr("fill",grey).text(o[0]);n.append("tspan").text(o[1]);});
t(412,19.5,"+0.11 (+0.60%)",hg,11.5,70);
svg.append("rect").attr("x",9.5).attr("y",27.5).attr("width",36).attr("height",17).attr("rx",2).attr("fill","none").attr("stroke","#f77c80");
t(15,40.5,"21.52","#f7525f",11.5,25);
t(52,40,"0.01",grey,10,16);
svg.append("rect").attr("x",74.5).attr("y",27.5).attr("width",36).attr("height",17).attr("rx",2).attr("fill","none").attr("stroke","#42a5f5");
t(81,40.5,"21.53","#2196f3",11.5,25);
const legendNames=["STO, ASX","ORG, ASX","OSH, ASX"];
const legendValues=["5.21","4.56","2.83"];
const legendColors=["#ff4a12","#ff8c17","#ffd110"];
const legendNameW=[39,42,40], legendValX=[55,58,57], legendY=[62,80.5,99];
legendNames.forEach((n,i)=>{t(10,legendY[i],n,grey,11,legendNameW[i]);t(legendValX[i],legendY[i],legendValues[i],legendColors[i],11.5,19);});
svg.append("rect").attr("x",10.5).attr("y",105.5).attr("width",21).attr("height",15).attr("rx",1).attr("fill","#fafcfa").attr("stroke","#e0e3e8");
svg.append("path").attr("d","M17.5 115 L21 112 L24.5 115").attr("fill","none").attr("stroke","#555").attr("stroke-width",1.3);
</script>
</body></html>
